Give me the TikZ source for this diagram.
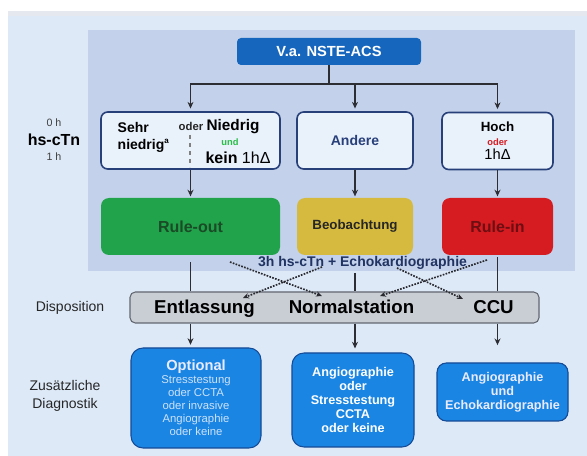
\documentclass[tikz,border=0pt]{standalone}
\usepackage{fontspec}
\setmainfont{Liberation Sans}
\usetikzlibrary{arrows.meta}

\definecolor{fondclair}{RGB}{221,233,247}
\definecolor{fondbande}{RGB}{229,233,239}
\definecolor{panneau}{RGB}{195,210,234}
\definecolor{bleufonce}{RGB}{22,102,190}
\definecolor{bleuvif}{RGB}{26,133,226}
\definecolor{bordbleu}{RGB}{20,74,150}
\definecolor{marine}{RGB}{40,64,122}
\definecolor{casepale}{RGB}{233,241,251}
\definecolor{vertbox}{RGB}{33,163,75}
\definecolor{verttexte}{RGB}{26,74,38}
\definecolor{vertund}{RGB}{40,190,70}
\definecolor{jaunebox}{RGB}{214,186,64}
\definecolor{rougebox}{RGB}{214,27,33}
\definecolor{rougetexte}{RGB}{108,14,18}
\definecolor{grisbarre}{RGB}{201,206,213}
\definecolor{grisbord}{RGB}{98,103,112}
\definecolor{trait}{RGB}{45,45,52}
\definecolor{textepale}{RGB}{205,226,252}

\newcommand{\pxu}{0.75pt}

\begin{document}
\begin{tikzpicture}[x=\pxu, y=-\pxu,
    boite/.style={draw=marine, line width=1.2pt, rounded corners=5pt, fill=casepale,
        minimum height=57*\pxu, inner sep=0pt},
    regle/.style={rounded corners=6pt, minimum height=57*\pxu, inner sep=0pt,
        font=\bfseries\fontsize{12}{14}\selectfont},
    examen/.style={draw=bordbleu, line width=0.8pt, fill=bleuvif, rounded corners=9pt,
        inner sep=0pt, align=center},
    ligne/.style={draw=trait, line width=1.1pt},
    fleche/.style={ligne, -{Stealth[length=5pt, width=4.5pt]}},
    pointille/.style={draw=trait!90!black, line width=1.25pt, densely dotted,
        -{Stealth[length=4.5pt, width=4pt]}}]

% 1. Fond, bande grise et panneau
\useasboundingbox (0,0) rectangle (587,456);
\fill[white] (0,0) rectangle (587,456);
\fill[fondbande] (8,11) rectangle (587,456);
\fill[fondclair] (8,16) rectangle (587,456);
\fill[panneau] (88,30) rectangle (575,271);

% 2. Boite de depart
\node[fill=bleufonce, rounded corners=3pt, minimum width=184*\pxu, minimum height=27*\pxu,
    text=white, font=\bfseries\fontsize{11}{13}\selectfont] (vaacs) at (329,51.5) {V.a. NSTE-ACS};

% 3. Premiere rangee (hs-cTn)
\node[boite, minimum width=179*\pxu] (tresbas) at (190.5,140.5) {};
\node[boite, minimum width=116*\pxu, text=marine, font=\bfseries\fontsize{10.5}{12}\selectfont]
    (autre) at (355,140.5) {Andere};
\node[boite, minimum width=111*\pxu, align=center, font=\fontsize{10}{10.5}\selectfont]
    (haut) at (497.5,141) {{\bfseries Hoch}\\{\bfseries\fontsize{7}{10.5}\selectfont\color{rougebox}oder}\\{\fontsize{11}{10.5}\selectfont 1hΔ}};

\node[anchor=west, align=left, font=\bfseries\fontsize{10.5}{12.75}\selectfont]
    (sehr) at (113,137) {Sehr\\niedrig\textsuperscript{\fontsize{6}{7}\selectfont a}};
\node[font=\bfseries\fontsize{8.5}{10}\selectfont, text=black!85] (oder) at (191,126) {oder};
\node[font=\bfseries\fontsize{11.5}{13}\selectfont] (niedrig) at (233,127) {Niedrig};
\node[font=\bfseries\fontsize{7}{8}\selectfont, text=vertund] (und) at (230,142) {und};
\node[font=\fontsize{12}{14}\selectfont] (kein) at (238,158) {\textbf{kein} 1hΔ};
\draw[gray, line width=0.9pt, dashed] (190,135) -- (190,167); % separation

% 4. Fleches depuis la boite de depart
\coordinate (verzw) at (329,84);
\draw[ligne] (vaacs.south) -- (verzw);
\draw[fleche, shorten >=2pt] (verzw) -| (tresbas.north);
\draw[fleche, shorten >=2pt] (verzw) -| (haut.north);
\draw[fleche, shorten >=2pt] (autre.north |- verzw) -- (autre.north);

% 5. Deuxieme rangee
\node[regle, fill=vertbox, text=verttexte, minimum width=179*\pxu] (rout) at (190.5,226.5) {Rule-out};
\node[regle, fill=jaunebox, text=black!85, minimum width=116*\pxu,
    font=\bfseries\fontsize{10}{12}\selectfont] (beob) at (355,226.5) {Beobachtung};
\node[regle, fill=rougebox, text=rougetexte, minimum width=111*\pxu] (rin) at (497.5,226.5) {Rule-in};

\draw[fleche, shorten >=1pt] (tresbas.south) -- (rout.north);
\draw[fleche, shorten >=1pt] (autre.south) -- (beob.north);
\draw[fleche, shorten >=1pt] (haut.south) -- (rin.north);

% 6. Barre de disposition
\node[draw=grisbord, line width=0.8pt, fill=grisbarre, rounded corners=4pt,
    minimum width=409*\pxu, minimum height=31*\pxu] (dispo) at (334.5,307.5) {};

\draw[ligne, shorten <=5pt] (rout.south) -- (rout.south |- dispo.north);
\draw[ligne] (beob |- 0,273) -- (beob |- dispo.north);
\draw[ligne, shorten <=1.5pt] (rin.south) -- (rin.south |- dispo.north);

\foreach \nom/\x in {entl/204.5, normal/351.5, ccu/493.5} {
    \coordinate (\nom) at (\x,313.5);
}
\node[anchor=base, font=\bfseries\fontsize{14}{16}\selectfont] (tentl) at (entl) {Entlassung};
\node[anchor=base, font=\bfseries\fontsize{14}{16}\selectfont] (tnormal) at (normal) {Normalstation};
\node[anchor=base, font=\bfseries\fontsize{14}{16}\selectfont] (tccu) at (ccu) {CCU};

% 7. Fleches pointillees
\coordinate (p1) at (230,262); \coordinate (p2) at (322,296);
\coordinate (q1) at (322,267); \coordinate (q2) at (243,298);
\coordinate (r1) at (487,260); \coordinate (r2) at (380,296);
\coordinate (s1) at (397,268); \coordinate (s2) at (463,299);
\draw[pointille] (p1) -- (p2);
\draw[pointille] (q1) -- (q2);
\draw[pointille] (r1) -- (r2);
\draw[pointille] (s1) -- (s2);

\node[text=marine!80!black, font=\bfseries\fontsize{10.5}{12}\selectfont] (echo) at (362.5,262.5)
    {3h hs-cTn + Echokardiographie};

% 8. Troisieme rangee (diagnostic)
\node[examen, minimum width=130*\pxu, minimum height=100*\pxu, text=textepale,
    font=\fontsize{8.5}{9.75}\selectfont] (opt) at (196,398)
    {{\bfseries\fontsize{11}{13}\selectfont\color{white!92!blue}Optional}\\Stresstestung\\oder CCTA\\oder invasive\\Angiographie\\oder keine};
\node[examen, minimum width=122*\pxu, minimum height=94*\pxu, text=white,
    font=\bfseries\fontsize{9.5}{10.5}\selectfont] (mitte) at (353,400)
    {Angiographie\\oder\\Stresstestung\\CCTA\\oder keine};
\node[examen, minimum width=131*\pxu, minimum height=58*\pxu, rounded corners=7pt, text=white!92!blue,
    font=\bfseries\fontsize{9.5}{10.5}\selectfont] (droite) at (502.5,392)
    {Angiographie\\und\\Echokardiographie};

\draw[fleche, shorten >=2pt] (rout |- dispo.south) -- (rout |- opt.north);
\draw[fleche, shorten >=3pt] (beob |- dispo.south) -- (beob |- mitte.north);
\draw[fleche, shorten >=13pt] (rin |- dispo.south) -- (rin |- droite.north);

% 9. Etiquettes a gauche
\node[text=black!75, font=\fontsize{8}{9.5}\selectfont] (zero) at (54,123) {0 h};
\node[font=\bfseries\fontsize{12}{14}\selectfont] (hsctn) at (54,140) {hs-cTn};
\node[text=black!75, font=\fontsize{8}{9.5}\selectfont] (eins) at (54,157) {1 h};
\node[text=black!85, font=\fontsize{10.5}{12}\selectfont] (dispolbl) at (70,308) {Disposition};
\node[text=black!85, align=center, font=\fontsize{10.5}{14}\selectfont] (zusatz) at (65,396)
    {Zusätzliche\\Diagnostik};
\end{tikzpicture}
\end{document}
